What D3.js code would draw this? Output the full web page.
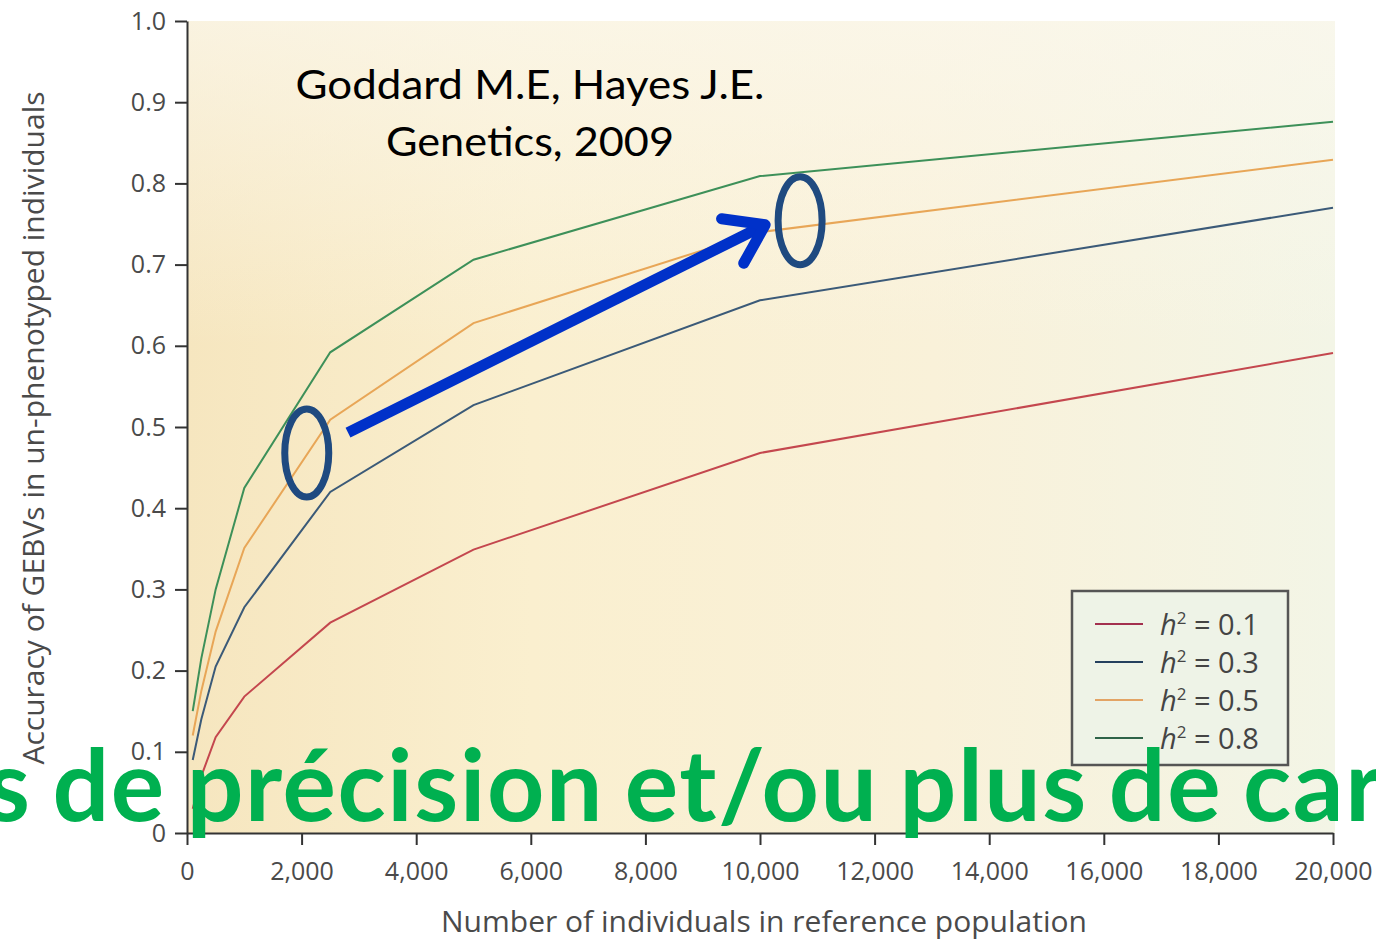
<!DOCTYPE html>
<meta charset="utf-8">
<style>
    body { margin: 0; background: #fff; }
    .tick text { font-family: "Open Sans", sans-serif; font-size: 25px; fill: #4a4a4a; }
    .axis path, .axis line { stroke: #333; stroke-width: 2; }
</style>
<body>
<div id="plotarea"></div>
<script src="https://cdn.jsdelivr.net/npm/d3@7/dist/d3.min.js"></script>
<script>

    // reference population sizes and accuracies per heritability
    var popSize = [100, 250, 500, 1000, 2500, 5000, 10000, 20000];
    var h01 = [0.03, 0.07, 0.118, 0.168, 0.259, 0.349, 0.468, 0.591];
    var h03 = [0.09, 0.14, 0.205, 0.278, 0.420, 0.527, 0.656, 0.770];
    var h05 = [0.12, 0.175, 0.248, 0.351, 0.509, 0.628, 0.740, 0.829];
    var h08 = [0.15, 0.215, 0.30, 0.425, 0.592, 0.706, 0.809, 0.876];
    var seriesNames = ["0.1", "0.3", "0.5", "0.8"];
    var xTicks = [0, 2000, 4000, 6000, 8000, 10000, 12000, 14000, 16000, 18000, 20000];
    var yTicks = [0, 0.1, 0.2, 0.3, 0.4, 0.5, 0.6, 0.7, 0.8, 0.9, 1.0];
    var yTickLabels = ["0", "0.1", "0.2", "0.3", "0.4", "0.5", "0.6", "0.7", "0.8", "0.9", "1.0"];
    // annotation anchors (data units)
    var arrowFrom = [2810, 0.493], arrowTo = [10090, 0.749];
    var marks = [[2090, 0.468], [10700, 0.754]];

    var width = 1376, height = 942;
    var x = d3.scaleLinear().domain([0, 20000]).range([187, 1333]);
    var y = d3.scaleLinear().domain([0, 1]).range([833, 21]);

    var lineColor = {"0.1": "#c4474e", "0.3": "#3b5a78", "0.5": "#e8a657", "0.8": "#3d9059"};
    var legendColor = {"0.1": "#a3304f", "0.3": "#24405e", "0.5": "#e3a465", "0.8": "#2e6348"};

    var svg = d3.select("#plotarea").append("svg")
            .attr("width", width)
            .attr("height", height);

    var defs = svg.append("defs");
    var grad = defs.append("linearGradient").attr("id", "bg").attr("x1", 0).attr("x2", 1).attr("y1", 0).attr("y2", 0);
    grad.append("stop").attr("offset", "0%").attr("stop-color", "#f6e6bf");
    grad.append("stop").attr("offset", "30%").attr("stop-color", "#faefcf");
    grad.append("stop").attr("offset", "65%").attr("stop-color", "#f9f1d9");
    grad.append("stop").attr("offset", "100%").attr("stop-color", "#f3f5e6");
    var vgrad = defs.append("linearGradient").attr("id", "bgv").attr("x1", 0).attr("x2", 0).attr("y1", 0).attr("y2", 1);
    vgrad.append("stop").attr("offset", "0%").attr("stop-color", "#fbf8ee").attr("stop-opacity", 0.7);
    vgrad.append("stop").attr("offset", "40%").attr("stop-color", "#fbf8ee").attr("stop-opacity", 0);

    svg.append("rect").attr("x", x(0)).attr("y", y(1)).attr("width", x(20000) - x(0) + 2).attr("height", y(0) - y(1))
            .attr("fill", "url(#bg)");
    svg.append("rect").attr("x", x(0)).attr("y", y(1)).attr("width", x(20000) - x(0) + 2).attr("height", y(0) - y(1))
            .attr("fill", "url(#bgv)");

    var all = [h01, h03, h05, h08];
    var series = seriesNames.map(function(name, i) {
        return {name: name, values: popSize.map(function(p, j) { return {x: p, acc: all[i][j]}; })};
    });

    var line = d3.line()
            .x(function(d) { return x(d.x); })
            .y(function(d) { return y(d.acc); });

    svg.selectAll(".series")
            .data(series)
            .enter().append("path")
            .attr("class", "series")
            .attr("fill", "none")
            .attr("stroke", function(d) { return lineColor[d.name]; })
            .attr("stroke-width", 2)
            .attr("d", function(d) { return line(d.values); });

    // axes
    svg.append("g")
            .attr("class", "axis")
            .attr("transform", "translate(" + x(0) + ",0)")
            .call(d3.axisLeft(y).tickValues(yTicks).tickSize(12).tickPadding(9).tickSizeOuter(0)
                .tickFormat(function(d, i) { return yTickLabels[i]; }));

    svg.append("g")
            .attr("class", "axis")
            .attr("transform", "translate(0," + y(0) + ")")
            .call(d3.axisBottom(x).tickValues(xTicks).tickSize(12).tickPadding(17).tickSizeOuter(0)
                .tickFormat(d3.format(",")));

    svg.append("text")
            .attr("transform", "translate(44," + 428 + ") rotate(-90)")
            .attr("text-anchor", "middle")
            .style("font-family", "'Open Sans', sans-serif")
            .style("font-size", "30px")
            .style("fill", "#4a4a4a")
            .text("Accuracy of GEBVs in un-phenotyped individuals");

    svg.append("text")
            .attr("x", 764).attr("y", 932)
            .attr("text-anchor", "middle")
            .style("font-family", "'Open Sans', sans-serif")
            .style("font-size", "30px")
            .style("fill", "#4a4a4a")
            .text("Number of individuals in reference population");

    // legend
    var lg = svg.append("g").attr("transform", "translate(1072,591)");
    lg.append("rect").attr("width", 216).attr("height", 174)
            .attr("fill", "#eef3e7").attr("stroke", "#555").attr("stroke-width", 2.5);
    var item = lg.selectAll(".item").data(seriesNames).enter().append("g")
            .attr("transform", function(d, i) { return "translate(0," + (33 + i * 38) + ")"; });
    item.append("line").attr("x1", 23).attr("x2", 71)
            .attr("stroke", function(d) { return legendColor[d]; }).attr("stroke-width", 2);
    var lt = item.append("text").attr("x", 88).attr("y", 11)
            .style("font-family", "'Open Sans', sans-serif").style("font-size", "29px").style("fill", "#444");
    lt.append("tspan").style("font-style", "italic").text("h");
    lt.append("tspan").attr("dy", -11).style("font-size", "17px").text("2");
    lt.append("tspan").attr("dy", 11).text(function(d) { return " = " + d; });

    // citation
    var cite = svg.append("text").attr("text-anchor", "middle")
            .style("font-family", "Lato, sans-serif").style("font-size", "40px").style("fill", "#000");
    cite.append("tspan").attr("x", 530).attr("y", 99)
            .attr("textLength", 469).attr("lengthAdjust", "spacingAndGlyphs").text("Goddard M.E, Hayes J.E.");
    cite.append("tspan").attr("x", 530).attr("y", 156)
            .attr("textLength", 288).attr("lengthAdjust", "spacingAndGlyphs").text("Genetics, 2009");

    // arrow and ellipses
    var ax0 = x(arrowFrom[0]), ay0 = y(arrowFrom[1]), ax1 = x(arrowTo[0]), ay1 = y(arrowTo[1]);
    var ang = Math.atan2(ay1 - ay0, ax1 - ax0);
    svg.append("line").attr("x1", ax0).attr("y1", ay0).attr("x2", ax1 - 6 * Math.cos(ang)).attr("y2", ay1 - 6 * Math.sin(ang))
            .attr("stroke", "#0031c9").attr("stroke-width", 11);
    var hl = 44, ha = 0.6;
    svg.append("path")
            .attr("d", "M" + (ax1 - hl * Math.cos(ang - ha)) + "," + (ay1 - hl * Math.sin(ang - ha)) +
                "L" + ax1 + "," + ay1 +
                "L" + (ax1 - hl * Math.cos(ang + ha)) + "," + (ay1 - hl * Math.sin(ang + ha)))
            .attr("fill", "none").attr("stroke", "#0031c9").attr("stroke-width", 11)
            .attr("stroke-linecap", "round").attr("stroke-linejoin", "round");

    svg.selectAll(".mark").data(marks).enter().append("ellipse")
            .attr("cx", function(d) { return x(d[0]); })
            .attr("cy", function(d) { return y(d[1]); })
            .attr("rx", 22).attr("ry", 44)
            .attr("fill", "none").attr("stroke", "#1f4a80").attr("stroke-width", 7);

    // overlaid slide caption
    svg.append("text")
            .attr("x", -14).attr("y", 821)
            .style("font-family", "Lato, sans-serif").style("font-weight", "bold")
            .style("font-size", "100px").style("letter-spacing", "1.6px").style("word-spacing", "-5px")
            .style("fill", "#00b050")
            .text("s de précision et/ou plus de caractères");

</script>
